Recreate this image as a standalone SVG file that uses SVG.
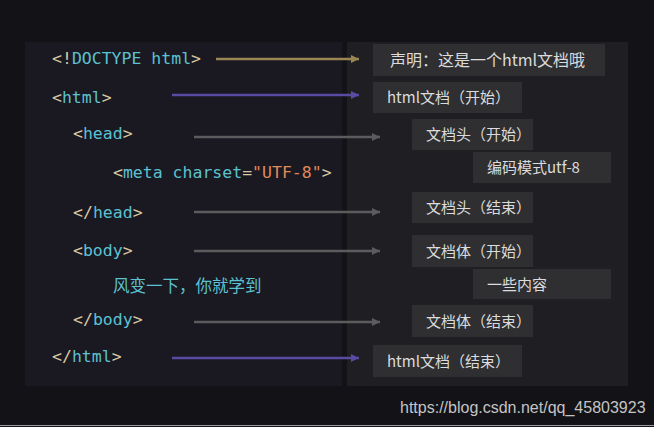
<svg xmlns="http://www.w3.org/2000/svg" width="654" height="427" viewBox="0 0 654 427">
<defs>
<style>
.code{font-family:"DejaVu Sans Mono","Liberation Mono",monospace;font-size:16.5px;fill:#5cc2d1}
.p{fill:#d8c9a3}
.s{fill:#e0895a}
.box{fill:#2f2f32}
.lbl{font-family:"Noto Sans CJK SC","Noto Sans",sans-serif;font-size:15px;fill:#dcdcdc}
.cn{font-family:"Noto Sans CJK SC","Noto Sans",sans-serif;font-size:16.5px;fill:#5cc2d1}
.gold{stroke:#9a8652;stroke-width:2.5;fill:none}
.purple{stroke:#5a4aa2;stroke-width:2.5;fill:none}
.grey{stroke:#5c5c5e;stroke-width:2.5;fill:none}
</style>
<marker id="mg" viewBox="0 0 10 10" refX="10" refY="5" markerWidth="3.2" markerHeight="3.6" markerUnits="strokeWidth" orient="auto"><path d="M0,0L10,5L0,10z" fill="#9a8652"/></marker>
<marker id="mp" viewBox="0 0 10 10" refX="10" refY="5" markerWidth="3.2" markerHeight="3.6" markerUnits="strokeWidth" orient="auto"><path d="M0,0L10,5L0,10z" fill="#5a4aa2"/></marker>
<marker id="mr" viewBox="0 0 10 10" refX="10" refY="5" markerWidth="3.2" markerHeight="3.6" markerUnits="strokeWidth" orient="auto"><path d="M0,0L10,5L0,10z" fill="#5c5c5e"/></marker>
</defs>
<rect x="0" y="0" width="654" height="427" fill="#131217"/>
<rect x="25" y="42" width="317" height="344" fill="#1a1820"/>
<rect x="347" y="42" width="281" height="344" fill="#1f1f23"/>
<line x1="0" y1="425.5" x2="654" y2="425.5" stroke="#9a9a9a" stroke-width="1"/>

<g id="code">
<text class="code" x="52" y="64"><tspan class="p">&lt;!</tspan>DOCTYPE html<tspan class="p">&gt;</tspan></text>
<text class="code" x="52" y="103"><tspan class="p">&lt;</tspan>html<tspan class="p">&gt;</tspan></text>
<text class="code" x="73" y="139"><tspan class="p">&lt;</tspan>head<tspan class="p">&gt;</tspan></text>
<text class="code" x="113" y="178"><tspan class="p">&lt;</tspan>meta charset<tspan class="p">=</tspan><tspan class="s">"UTF-8"</tspan><tspan class="p">&gt;</tspan></text>
<text class="code" x="73" y="218"><tspan class="p">&lt;/</tspan>head<tspan class="p">&gt;</tspan></text>
<text class="code" x="73" y="256"><tspan class="p">&lt;</tspan>body<tspan class="p">&gt;</tspan></text>
<text class="cn" x="113" y="292">风变一下，你就学到</text>
<text class="code" x="73" y="325"><tspan class="p">&lt;/</tspan>body<tspan class="p">&gt;</tspan></text>
<text class="code" x="52" y="362"><tspan class="p">&lt;/</tspan>html<tspan class="p">&gt;</tspan></text>
</g>

<g id="connectors">
<line class="gold" x1="216" y1="59" x2="359" y2="59" marker-end="url(#mg)"/>
<line class="purple" x1="172" y1="95" x2="359" y2="95" marker-end="url(#mp)"/>
<line class="grey" x1="194" y1="137" x2="380" y2="137" marker-end="url(#mr)"/>
<line class="grey" x1="194" y1="212" x2="380" y2="212" marker-end="url(#mr)"/>
<line class="grey" x1="194" y1="251" x2="380" y2="251" marker-end="url(#mr)"/>
<line class="grey" x1="194" y1="322" x2="380" y2="322" marker-end="url(#mr)"/>
<line class="purple" x1="172" y1="358" x2="359" y2="358" marker-end="url(#mp)"/>
</g>

<g id="n1"><rect class="box" x="373" y="44" width="232" height="32"/><text class="lbl" x="390" y="66" style="font-size:16px">声明：这是一个html文档哦</text></g>
<g id="n2"><rect class="box" x="373" y="82" width="149" height="31"/><text class="lbl" x="387" y="103">html文档（开始）</text></g>
<g id="n3"><rect class="box" x="412" y="119" width="121" height="31"/><text class="lbl" x="426" y="140">文档头（开始）</text></g>
<g id="n4"><rect class="box" x="473" y="152" width="138" height="31"/><text class="lbl" x="487" y="173">编码模式utf-8</text></g>
<g id="n5"><rect class="box" x="412" y="192" width="121" height="31"/><text class="lbl" x="426" y="213">文档头（结束）</text></g>
<g id="n6"><rect class="box" x="412" y="235" width="121" height="32"/><text class="lbl" x="426" y="257">文档体（开始）</text></g>
<g id="n7"><rect class="box" x="473" y="269" width="138" height="30"/><text class="lbl" x="487" y="290">一些内容</text></g>
<g id="n8"><rect class="box" x="412" y="305" width="121" height="32"/><text class="lbl" x="426" y="327">文档体（结束）</text></g>
<g id="n9"><rect class="box" x="373" y="345" width="149" height="32"/><text class="lbl" x="387" y="367">html文档（结束）</text></g>

<text x="400" y="413" style="font-family:'Liberation Sans',Arial,sans-serif;font-size:16px;fill:#c4c4c4">https://blog.csdn.net/qq_45803923</text>
</svg>
